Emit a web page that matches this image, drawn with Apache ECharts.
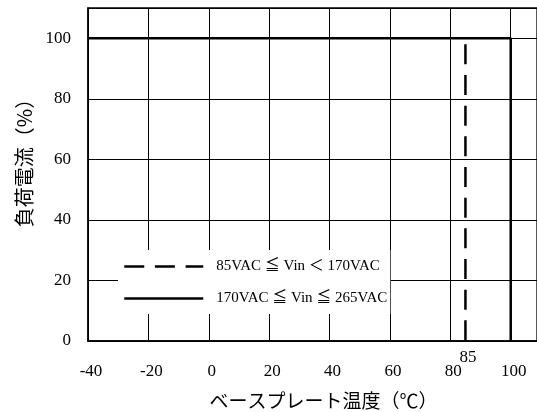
<!DOCTYPE html>
<html><head><meta charset="utf-8">
<script src="https://cdn.jsdelivr.net/npm/echarts@6/dist/echarts.min.js"></script>
<style>html,body{margin:0;padding:0;background:#fff}#c{width:537px;height:412px}</style>
</head><body><div id="c"></div>
<script>
const seriesNames = ['85VAC ≦ Vin ＜ 170VAC', '170VAC ≦ Vin ≦ 265VAC'];
const lowLineData = [[85, 98], [85, 0]];
const highLineData = [[-40, 100], [100, 100], [100, 0]];
const markerX = 85;
const xName = 'ベースプレート温度（℃）';
const yName = '負荷電流（%）';

const serif = 'Liberation Serif, Times New Roman, serif';
const chart = echarts.init(document.getElementById('c'));
chart.setOption({
  animation: false,
  backgroundColor: '#fff',
  grid: { left: 88, top: 8, right: 0, bottom: 71, outerBoundsMode: 'none', show: true, borderColor: '#000', borderWidth: 1.3, containLabel: false },
  legend: {
    data: seriesNames,
    orient: 'vertical', left: 118, top: 250,
    padding: [9, 3, 8, 5],
    itemWidth: 79, itemHeight: 14, itemGap: 17,
    itemStyle: { opacity: 0, borderWidth: 0 },
    lineStyle: { width: 2.5 },
    backgroundColor: '#fff',
    textStyle: { fontFamily: serif + ', Noto Sans CJK JP', fontSize: 15, color: '#000', padding: [0,0,0,8] },
    z: 10
  },
  xAxis: {
    type: 'value', min: -40, max: 108.7, interval: 20,
    name: xName, nameLocation: 'middle', nameGap: 50,
    nameTextStyle: { fontFamily: 'Noto Sans CJK JP', fontSize: 19, color: '#000', padding: [0,0,0,22] },
    axisLine: { show: true, onZero: false, lineStyle: { color: '#000', width: 1.5 } },
    axisTick: { show: false },
    axisLabel: { showMaxLabel: false, fontFamily: serif, fontSize: 17, color: '#000', margin: 22, padding: [0,0,0,6] },
    splitLine: { show: true, lineStyle: { color: '#000', width: 1 } }
  },
  yAxis: {
    type: 'value', min: 0, max: 110, interval: 20,
    name: yName, nameLocation: 'middle', nameGap: 52,
    nameTextStyle: { fontFamily: 'Noto Sans CJK JP', fontSize: 20, color: '#000', padding: [0,0,0,33] },
    axisLine: { show: true, onZero: false, lineStyle: { color: '#000', width: 1.5 } },
    axisTick: { show: false },
    axisLabel: { showMaxLabel: false, fontFamily: serif, fontSize: 17, color: '#000', margin: 17 },
    splitLine: { show: true, lineStyle: { color: '#000', width: 1 } }
  },
  series: [
    {
      name: seriesNames[0], type: 'line', data: lowLineData, symbol: 'none', clip: false,
      lineStyle: { color: '#000', width: 2.5, type: [20, 10.67] },
      itemStyle: { color: '#000' },
      markPoint: {
        symbol: 'circle', symbolSize: 0,
        data: [{ coord: [markerX, 0], value: markerX }],
        label: { show: true, position: 'bottom', distance: 8, formatter: String(markerX), fontFamily: serif, fontSize: 17, color: '#000', padding: [0,0,0,5] }
      }
    },
    {
      name: seriesNames[1], type: 'line', data: highLineData, symbol: 'none', clip: false,
      lineStyle: { color: '#000', width: 2.5 },
      itemStyle: { color: '#000' }
    }
  ]
});
</script></body></html>
